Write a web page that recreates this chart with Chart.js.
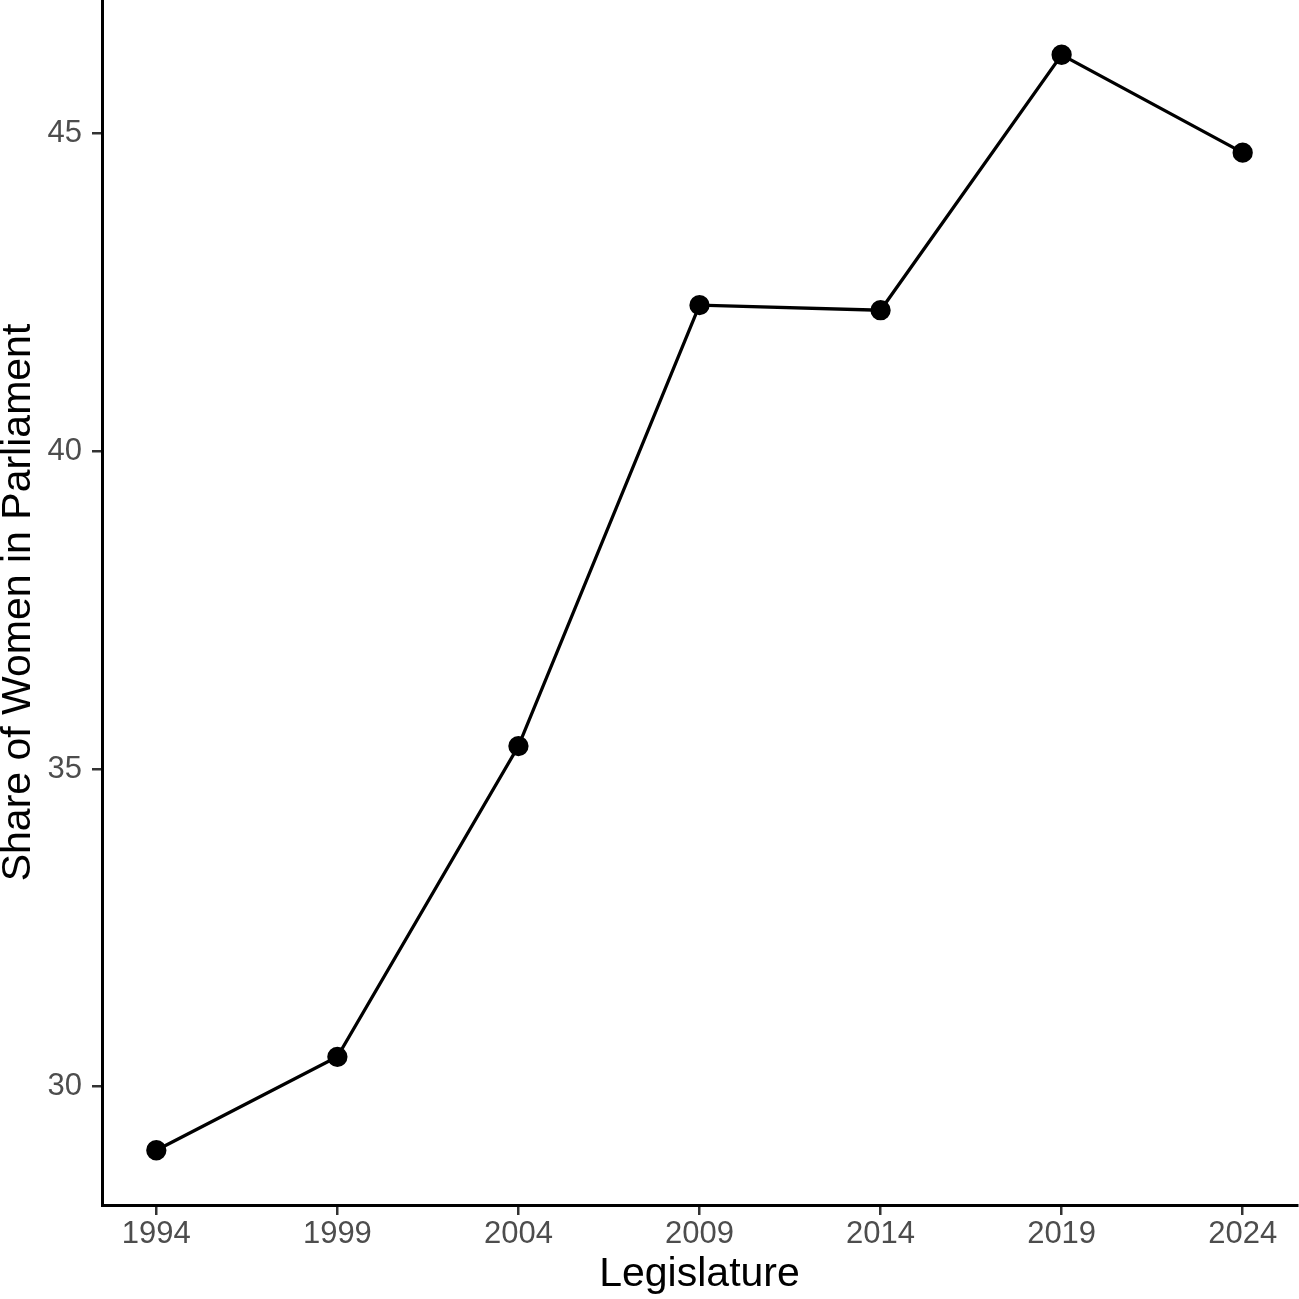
<!DOCTYPE html>
<html>
<head>
<meta charset="utf-8">
<script src="https://cdn.jsdelivr.net/npm/chart.js@4"></script>
<style>
  html, body { margin: 0; padding: 0; background: #fff; }
  canvas { display: block; }
</style>
</head>
<body>
<canvas id="chart" width="1299" height="1299"></canvas>
<script>
// Data
let years = [1994, 1999, 2004, 2009, 2014, 2019, 2024];
let shareWomen = [29.00, 30.47, 35.36, 42.30, 42.22, 46.24, 44.70];
let xTicks = [1994, 1999, 2004, 2009, 2014, 2019, 2024];
let yTicks = [30, 35, 40, 45];

// ggplot-style 5% expansion around the data range
let xSpan = Math.max(...years) - Math.min(...years);
let ySpan = Math.max(...shareWomen) - Math.min(...shareWomen);
let xMin = Math.min(...years) - xSpan * 0.05;
let xMax = Math.max(...years) + xSpan * 0.05;
let yMin = Math.min(...shareWomen) - ySpan * 0.05;
let yMax = Math.max(...shareWomen) + ySpan * 0.05;

// drop the label overflow padding chart.js adds at the axis ends
function noEndPadding(scale) {
    scale.paddingTop = 0;
    scale.paddingBottom = 0;
    scale.paddingLeft = 0;
    scale.paddingRight = 0;
}

const data = {
    datasets: [{
        label: 'Share of Women in Parliament',
        data: years.map((y, i) => ({ x: y, y: shareWomen[i] })),
        borderColor: '#000',
        backgroundColor: '#000',
        borderWidth: 3.3,
        pointRadius: 8.5,
        pointHoverRadius: 8.5,
        tension: 0
    }]
};

var ctx = document.getElementById('chart').getContext('2d');
var shareChart = new Chart(ctx, {
    type: 'line',
    data,
    options: {
        responsive: false,
        animation: false,
        clip: false,
        layout: { autoPadding: false, padding: { top: 0, right: 2, left: 0, bottom: 0 } },
        plugins: {
            legend: { display: false },
            tooltip: { enabled: false }
        },
        scales: {
            x: {
                type: 'linear',
                min: xMin,
                max: xMax,
                afterBuildTicks: (scale) => { scale.ticks = xTicks.map(v => ({ value: v })); },
                afterFit: (scale) => { scale.height = 94; noEndPadding(scale); },
                border: { display: true, color: '#000', width: 3 },
                grid: { drawOnChartArea: false, drawTicks: true, tickLength: 10, color: '#333', lineWidth: 2.5 },
                ticks: {
                    color: '#4D4D4D',
                    font: { family: 'Liberation Sans', size: 31 },
                    padding: 1,
                    maxRotation: 0,
                    callback: (v) => String(v)
                },
                title: {
                    display: true,
                    text: 'Legislature',
                    color: '#000',
                    font: { family: 'Liberation Sans', size: 41 },
                    padding: { top: -2, bottom: 0 }
                }
            },
            y: {
                type: 'linear',
                min: yMin,
                max: yMax,
                afterBuildTicks: (scale) => { scale.ticks = yTicks.map(v => ({ value: v })); },
                afterFit: (scale) => { scale.width = 102; noEndPadding(scale); },
                border: { display: true, color: '#000', width: 3 },
                grid: { drawOnChartArea: false, drawTicks: true, tickLength: 10, color: '#333', lineWidth: 2.5 },
                ticks: {
                    color: '#4D4D4D',
                    font: { family: 'Liberation Sans', size: 31 },
                    padding: 10,
                    callback: (v) => String(v)
                },
                title: {
                    display: true,
                    text: 'Share of Women in Parliament',
                    color: '#000',
                    font: { family: 'Liberation Sans', size: 41 },
                    padding: { top: -6, bottom: 0 }
                }
            }
        }
    }
});
</script>
</body>
</html>
